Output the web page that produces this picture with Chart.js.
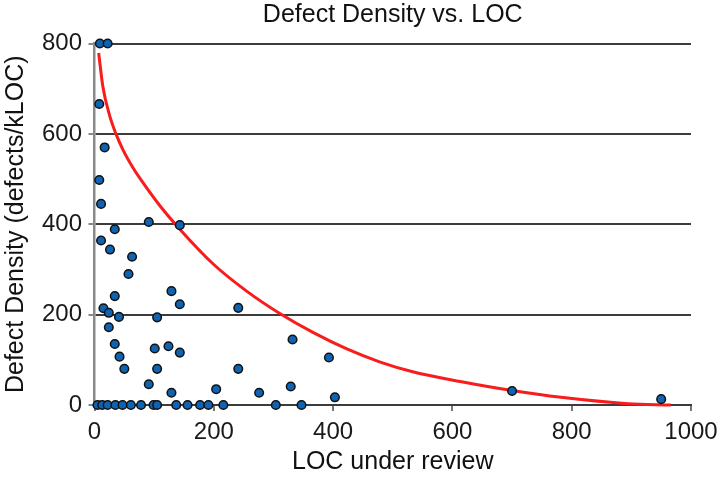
<!DOCTYPE html>
<html>
<head>
<meta charset="utf-8">
<script src="https://cdn.jsdelivr.net/npm/chart.js@4"></script>
<style>
  html, body { margin: 0; padding: 0; background: #fff; }
  #wrap { width: 720px; height: 481px; }
</style>
</head>
<body>
<div id="wrap"><canvas id="c" width="720" height="481"></canvas></div>
<script>
// Scatter points: LOC under review (x) and defect density (y)
const locValues = [
  9, 22, 8, 17, 8, 11, 91, 143, 34, 11, 26, 63, 57, 129, 34, 143, 241, 15, 24, 41,
  105, 24, 332, 34, 124, 101, 143, 42, 393, 50, 105, 241, 91, 329, 204, 700, 129, 276, 403, 950,
  5, 13, 22, 35, 47, 61, 78, 99, 105, 137, 156, 177, 191, 216, 304, 347
];
const densityValues = [
  800, 800, 666, 570, 498, 445, 405, 398, 389, 364, 344, 328, 290, 252, 241, 223, 215, 214, 204, 195,
  194, 172, 145, 135, 130, 125, 116, 107, 105, 80, 80, 80, 46, 41, 35, 31, 27, 27, 17, 13,
  0, 0, 0, 0, 0, 0, 0, 0, 0, 0, 0, 0, 0, 0, 0, 0
];
// Red trend curve
const trendLoc = [7, 14, 25, 36, 48, 64, 78, 109, 143, 199, 255, 310, 367, 423, 479, 535, 613, 700, 782, 894, 966];
const trendDensity = [779, 705, 642, 600, 564, 526, 498, 442, 389, 312, 252, 203, 160, 124, 95, 73, 52, 32, 17, 3, 0];
// Axis ticks
const xTicks = [0, 200, 400, 600, 800, 1000];
const yTicks = [0, 200, 400, 600, 800];

const pts = locValues.map((x, i) => ({ x: x, y: densityValues[i] }));
const trend = trendLoc.map((x, i) => ({ x: x, y: trendDensity[i] }));

const FONT = "'Liberation Sans', Arial, sans-serif";

new Chart(document.getElementById('c'), {
  type: 'scatter',
  data: {
    datasets: [
      {
        data: pts,
        order: 0,
        pointRadius: 4.3,
        pointBackgroundColor: '#0e63b3',
        pointBorderColor: '#111',
        pointBorderWidth: 1.5,
        showLine: false,
        clip: false
      },
      {
        data: trend,
        order: 1,
        showLine: true,
        pointRadius: 0,
        borderColor: '#f81c1c',
        borderWidth: 3,
        cubicInterpolationMode: 'monotone',
        fill: false,
        clip: false
      }
    ]
  },
  options: {
    responsive: false,
    animation: false,
    layout: { padding: { left: 0, right: 29, top: 0, bottom: 0 } },
    plugins: {
      legend: { display: false },
      tooltip: { enabled: false },
      title: {
        display: true,
        text: 'Defect Density vs. LOC',
        fullSize: false,
        color: '#111',
        font: { family: FONT, size: 25, weight: 'normal' },
        padding: { top: 0, bottom: 13.5 }
      }
    },
    scales: {
      x: {
        type: 'linear',
        min: xTicks[0],
        max: xTicks[xTicks.length - 1],
        afterBuildTicks: s => { s.ticks = xTicks.map(v => ({ value: v })); },
        afterFit: s => { s.height = 76; s.paddingRight = 0; s.paddingLeft = 0; },
        ticks: {
          color: '#1a1a1a',
          font: { family: FONT, size: 24 },
          padding: 7,
          maxRotation: 0,
          callback: v => String(v)
        },
        grid: {
          drawOnChartArea: false,
          drawTicks: true,
          tickLength: 6,
          tickColor: '#777',
          lineWidth: 2
        },
        border: { display: true, color: '#3c3c3c', width: 2 },
        title: {
          display: true,
          text: 'LOC under review',
          color: '#111',
          font: { family: FONT, size: 25 },
          padding: { top: 0, bottom: 3.5 }
        }
      },
      y: {
        type: 'linear',
        min: yTicks[0],
        max: yTicks[yTicks.length - 1],
        afterBuildTicks: s => { s.ticks = yTicks.map(v => ({ value: v })); },
        afterFit: s => { s.width = 94.5; },
        ticks: {
          color: '#1a1a1a',
          font: { family: FONT, size: 24 },
          padding: 6.5,
          callback: v => String(v)
        },
        grid: {
          color: '#3c3c3c',
          lineWidth: 2,
          drawTicks: true,
          tickLength: 6,
          tickColor: '#888'
        },
        border: { display: true, color: '#8a8a8a', width: 2.5 },
        title: {
          display: true,
          text: 'Defect Density (defects/kLOC)',
          color: '#111',
          font: { family: FONT, size: 25 },
          padding: { top: 1, bottom: 0 }
        }
      }
    }
  }
});
</script>
</body>
</html>
